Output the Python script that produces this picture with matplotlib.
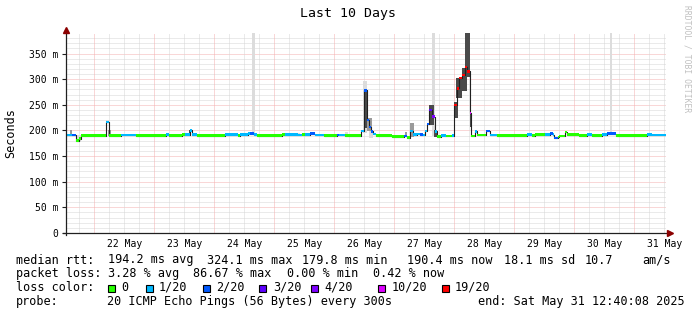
"""SmokePing style 10-day latency graph."""
import matplotlib
matplotlib.use('Agg')
import matplotlib.pyplot as plt
import matplotlib.dates as mdates
from matplotlib.patches import Rectangle
from datetime import datetime, timedelta

plt.rcParams['font.family'] = 'DejaVu Sans Mono'

W, H = 697, 315
end = datetime(2025, 5, 31, 12, 40, 8)
start = end - timedelta(days=10)
y_top = 390

# median rtt as steps: hour since graph start, median (ms), loss bucket
seg_hour = [0.0, 2.4, 4.0, 5.3, 6.1, 16.0, 17.3, 22.1, 27.9, 39.9,
            41.3, 46.4, 47.6, 49.6, 50.4, 52.3, 63.7, 68.7, 69.6, 72.7,
            73.6, 75.3, 76.3, 86.4, 87.7, 92.7, 94.4, 95.7, 97.6, 99.7,
            103.3, 108.3, 109.3, 111.7, 118.0, 119.3, 120.3, 121.2, 122.1, 122.9,
            124.0, 130.3, 135.2, 136.3, 137.6, 138.7, 140.3, 141.6, 142.9, 143.6,
            144.4, 145.3, 146.2, 147.4, 148.2, 150.0, 152.0, 154.3, 155.2, 156.2,
            157.3, 158.3, 159.6, 160.5, 161.4, 162.0, 163.6, 164.3, 168.1, 169.6,
            172.4, 184.4, 186.4, 187.7, 191.7, 193.6, 194.9, 195.3, 196.7, 197.3,
            199.7, 200.4, 205.3, 208.4, 210.4, 214.4, 216.4, 220.0, 232.3, 234.4]
seg_rtt = [191, 191, 180, 184, 190, 216, 190, 191, 190, 192,
           190, 192, 192, 200, 192, 190, 192, 190, 192, 194,
           194, 192, 190, 192, 192, 191, 192, 192, 194, 191,
           190, 191, 191, 190, 199, 278, 220, 207, 198, 193,
           190, 188, 189, 186, 199, 192, 193, 192, 191, 199,
           213, 240, 227, 198, 188, 190, 189, 190, 250, 282,
           302, 308, 324, 315, 234, 189, 198, 191, 199, 191,
           190, 192, 190, 192, 192, 194, 192, 185, 187, 189,
           197, 192, 190, 192, 190, 192, 194, 190, 192, 191]
seg_loss = [1, 2, 0, 0, 0, 1, 0, 1, 0, 1,
            0, 0, 1, 1, 1, 0, 1, 0, 1, 1,
            2, 1, 0, 0, 1, 1, 0, 1, 2, 1,
            0, 2, 1, 0, 1, 2, 2, 2, 2, 1,
            0, 0, 2, 0, 1, 1, 1, 2, 1, 1,
            2, 3, 4, 1, 0, 1, 0, 1, 6, 6,
            6, 6, 6, 6, 5, 0, 1, 0, 2, 1,
            0, 1, 0, 0, 1, 2, 1, 2, 0, 0,
            0, 0, 0, 1, 0, 1, 2, 0, 1, 1]

# smoke (spread of the 20 pings): hour range, rtt range, density level
smoke_h0 = [4.0, 16.0, 74.2, 92.7, 111.6, 118.6, 121.2, 146.3, 217.6,
            1.6, 16.8, 120.3, 135.6, 137.6,
            49.2, 119.3, 145.2, 147.2, 155.2, 156.0, 158.3, 159.6, 161.4]
smoke_h1 = [6.0, 17.3, 75.6, 93.6, 112.8, 120.3, 122.8, 147.6, 218.4,
            2.4, 18.0, 122.4, 136.5, 139.2,
            50.0, 120.3, 147.3, 148.5, 156.8, 158.3, 160.3, 161.6, 162.3]
smoke_lo = [178, 216, 192, 191, 191, 195, 186, 190, 192,
            191, 190, 198, 188, 188,
            192, 205, 211, 188, 224, 263, 276, 305, 207]
smoke_hi = [192, 221, 390, 195, 196, 297, 198, 390, 390,
            200, 200, 224, 197, 214,
            200, 280, 250, 200, 256, 302, 321, 390, 234]
smoke_lvl = [1, 1, 1, 1, 1, 1, 1, 1, 1,
             2, 2, 2, 2, 2,
             3, 3, 3, 3, 3, 3, 3, 3, 3]

loss_labels = ['0', '1/20', '2/20', '3/20', '4/20', '10/20', '19/20']
loss_colors = ['#26ff00', '#00b8ff', '#0059ff', '#5e00ff', '#7e00ff',
               '#dd00ff', '#ff0000']
smoke_colors = {1: '#dcdcdc', 2: '#9a9a9a', 3: '#4a4a4a'}

t0 = mdates.date2num(start)
t1 = mdates.date2num(end)


def hx(h):
    return t0 + h / 24.0


def px(x, y):
    return x / W, 1 - y / H


fig = plt.figure(figsize=(W / 100, H / 100), dpi=100)
fig.patch.set_facecolor('white')
ax = fig.add_axes([66 / W, (H - 233) / H, 600 / W, 200 / H])
ax.set_xlim(t0, t1)
ax.set_ylim(0, y_top)
for s in ax.spines.values():
    s.set_visible(False)

# grid, dotted like rrdtool
minor_c, major_c = '#d6d6d6', '#f5b0b0'
for v in range(10, 381, 10):
    major = v % 50 == 0
    ax.axhline(v, color=major_c if major else minor_c, lw=0.72,
               ls=(0, (1, 1)), zorder=1)
g = datetime(2025, 5, 21, 18, 0)
while g < end:
    major = g.hour == 0
    ax.axvline(mdates.date2num(g), color=major_c if major else minor_c,
               lw=0.72, ls=(0, (1, 1)), zorder=1)
    g += timedelta(hours=6)

# smoke
for a, b, lo, hi, lv in zip(smoke_h0, smoke_h1, smoke_lo, smoke_hi, smoke_lvl):
    ax.fill_between([hx(a), hx(b)], [lo, lo], [hi, hi],
                    color=smoke_colors[lv], lw=0, zorder=2)

# median line + loss coloured band
ends = seg_hour[1:] + [240.0]
xs = [hx(h) for h in seg_hour] + [t1]
ax.step(xs, seg_rtt + [seg_rtt[-1]], where='post', color='#202020',
        lw=0.8, zorder=3)
sw = 1.25 * y_top / 200.0
for a, b, r, l in zip(seg_hour, ends, seg_rtt, seg_loss):
    ax.fill_between([hx(a), hx(b)], [r - sw, r - sw], [r + sw, r + sw],
                    color=loss_colors[l], lw=0, zorder=4)

# axes lines with arrows
axc = '#202020'
ax.plot([0, 0], [-0.012, 1.0], color=axc, lw=0.9, transform=ax.transAxes,
        clip_on=False, zorder=5)
ax.plot([-0.005, 1.005], [0, 0], color=axc, lw=0.9, transform=ax.transAxes,
        clip_on=False, zorder=5)
ax.plot([0], [(233 - 29.5) / 200], marker='^', ms=4.5, color='#8b0000',
        mec='#8b0000', transform=ax.transAxes, clip_on=False, zorder=6)
ax.plot([(670 - 66) / 600], [0], marker='>', ms=4.5, color='#8b0000',
        mec='#8b0000', transform=ax.transAxes, clip_on=False, zorder=6)

yt = list(range(0, 351, 50))
ax.set_yticks(yt)
ax.set_yticklabels(['0' if v == 0 else f'{v} m' for v in yt])
days = [datetime(2025, 5, d, 12, 0) for d in range(22, 32)]
ax.set_xticks([mdates.date2num(d) for d in days])
ax.set_xticklabels([d.strftime('%d %b') for d in days])
ax.tick_params(axis='y', length=3, width=0.8, color=axc, pad=2.5,
               labelsize=7)
ax.tick_params(axis='x', length=0, pad=4.5, labelsize=7)

fig.text(*px(348, 13.5), 'Last 10 Days', ha='center', va='center',
         fontsize=9.5)
fig.text(*px(11, 133), 'Seconds', rotation=90, ha='center', va='center',
         fontsize=8.5)
fig.text(*px(687, 5), 'RRDTOOL / TOBI OETIKER', rotation=270, ha='center',
         va='top', fontsize=5.8, color='#c0c0c0')

fs = 8.5
row1 = [(16, 'median rtt:'), (108.3, '194.2 ms avg'), (207.3, '324.1 ms max'),
        (301.7, '179.8 ms min'), (407.3, '190.4 ms now'), (504, '18.1 ms sd'),
        (585, '10.7'), (642.3, 'am/s')]
row2 = [(16, 'packet loss:'), (108.3, '3.28 % avg'), (193.3, '86.67 % max'),
        (286.7, '0.00 % min'), (372.7, '0.42 % now')]
row4 = [(16, 'probe:'), (107.3, '20 ICMP Echo Pings (56 Bytes) every 300s'),
        (478.3, 'end: Sat May 31 12:40:08 2025')]
for y, row in ((263.5, row1), (277, row2), (305, row4)):
    for x, s in row:
        fig.text(*px(x, y), s, ha='left', va='baseline', fontsize=fs)

fig.text(*px(16, 291), 'loss color:', ha='left', va='baseline', fontsize=fs)
box_x = [108.3, 145.7, 202.7, 259.3, 311.0, 378.3, 441.7]
for bx, lab, col in zip(box_x, loss_labels, loss_colors):
    fig.patches.append(Rectangle(px(bx, 291.5), 7 / W, 7 / H, facecolor=col,
                                 edgecolor='black', lw=0.8,
                                 transform=fig.transFigure))
    fig.text(*px(bx + 13.4, 291), lab, ha='left', va='baseline', fontsize=fs)

fig.savefig('out.png', dpi=100)
print('saved out.png')
